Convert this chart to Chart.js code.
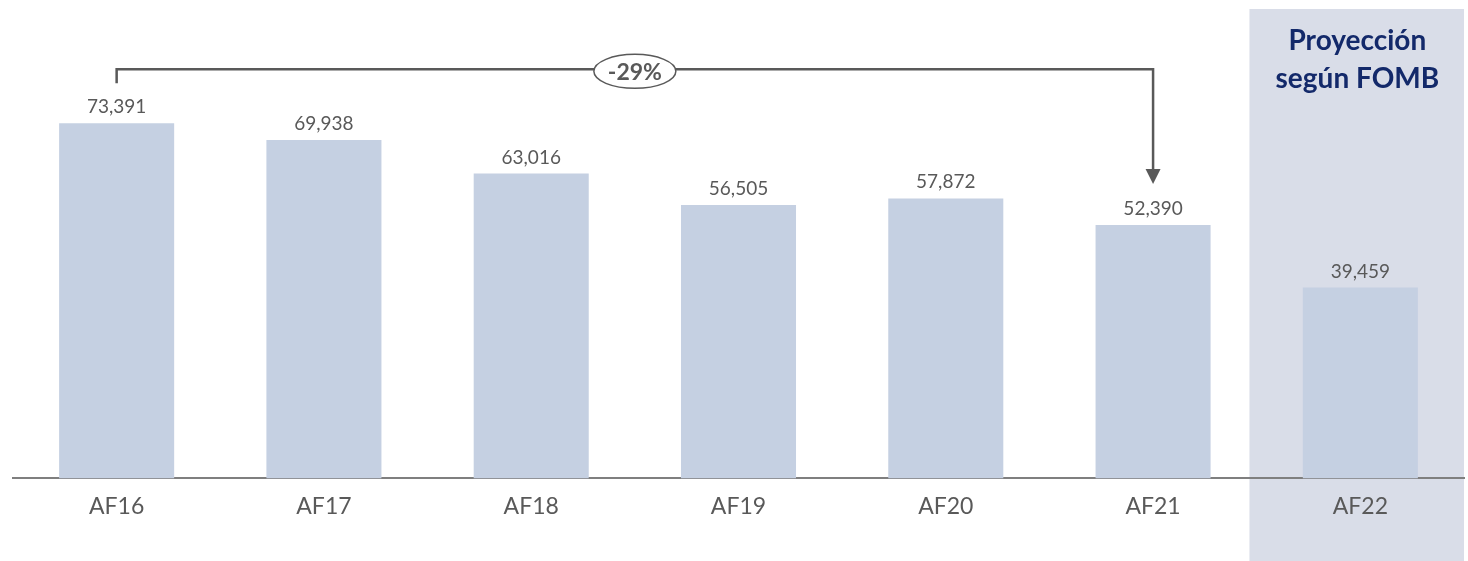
<!DOCTYPE html>
<html>
<head>
<meta charset="utf-8">
<script src="https://cdn.jsdelivr.net/npm/chart.js@4"></script>
<style>
  body { margin: 0; background: #fff; }
  #wrap { width: 1468px; height: 561px; position: relative; }
</style>
</head>
<body>
<div id="wrap"><canvas id="chart"></canvas></div>
<script>
const categories = ['AF16', 'AF17', 'AF18', 'AF19', 'AF20', 'AF21', 'AF22'];
const values = [73391, 69938, 63016, 56505, 57872, 52390, 39459];
const projectionTitle = ['Proyección', 'según FOMB'];
const bracketFrom = 0;
const bracketTo = 5;

const textGrey = '#595959';
const lineGrey = '#595959';

const pctChange = Math.round((values[bracketTo] / values[bracketFrom] - 1) * 100) + '%';

const shadePlugin = {
    id: 'shade',
    beforeDraw(chart) {
        const ctx = chart.ctx;
        const x = chart.scales.x;
        const step = x.getPixelForValue(1) - x.getPixelForValue(0);
        const left = x.getPixelForValue(categories.length - 1) - step * 0.535;
        ctx.save();
        ctx.fillStyle = '#d9dde8';
        ctx.fillRect(left, 9, chart.width - left - 4, chart.height - 9);
        ctx.fillStyle = '#13296a';
        ctx.font = 'bold 28px Lato';
        ctx.textAlign = 'center';
        ctx.textBaseline = 'middle';
        const cx = x.getPixelForValue(categories.length - 1) - 3;
        ctx.fillText(projectionTitle[0], cx, 41);
        ctx.fillText(projectionTitle[1], cx, 79);
        ctx.restore();
    }
};

const labelPlugin = {
    id: 'valueLabels',
    afterDatasetsDraw(chart) {
        const ctx = chart.ctx;
        const meta = chart.getDatasetMeta(0);
        ctx.save();
        ctx.fillStyle = textGrey;
        ctx.font = '19px Lato';
        ctx.textAlign = 'center';
        ctx.textBaseline = 'alphabetic';
        meta.data.forEach((bar, i) => {
            ctx.fillText(values[i].toLocaleString('en-US'), bar.x, bar.y - 10);
        });

        // bracket with arrow
        const a = meta.data[bracketFrom];
        const b = meta.data[bracketTo];
        const topY = a.y - 54;
        ctx.strokeStyle = lineGrey;
        ctx.lineWidth = 2.5;
        ctx.beginPath();
        ctx.moveTo(a.x, a.y - 40);
        ctx.lineTo(a.x, topY);
        ctx.lineTo(b.x, topY);
        ctx.lineTo(b.x, b.y - 55);
        ctx.stroke();
        ctx.fillStyle = lineGrey;
        ctx.beginPath();
        ctx.moveTo(b.x - 7.5, b.y - 56);
        ctx.lineTo(b.x + 7.5, b.y - 56);
        ctx.lineTo(b.x, b.y - 41);
        ctx.closePath();
        ctx.fill();

        const mx = (a.x + b.x) / 2;
        ctx.beginPath();
        ctx.ellipse(mx, topY + 2, 41, 17, 0, 0, Math.PI * 2);
        ctx.fillStyle = '#fff';
        ctx.fill();
        ctx.lineWidth = 1.5;
        ctx.stroke();
        ctx.fillStyle = textGrey;
        ctx.font = 'bold 23px Lato';
        ctx.textBaseline = 'middle';
        ctx.fillText(pctChange, mx, topY + 3);
        ctx.restore();
    }
};

new Chart(document.getElementById('chart'), {
    type: 'bar',
    data: {
        labels: categories,
        datasets: [{
            data: values,
            backgroundColor: '#c5d0e2',
            barPercentage: 0.555,
            categoryPercentage: 1
        }]
    },
    options: {
        responsive: true,
        maintainAspectRatio: false,
        animation: false,
        layout: { padding: { top: 43, left: 13, right: 4, bottom: 35 } },
        plugins: { legend: { display: false }, tooltip: { enabled: false } },
        scales: {
            x: {
                grid: { display: false },
                border: { display: true, color: '#7f7f7f', width: 2 },
                ticks: { color: textGrey, font: { family: 'Lato', size: 23 }, padding: 6 }
            },
            y: {
                display: false,
                min: 0,
                max: 90000
            }
        }
    },
    plugins: [shadePlugin, labelPlugin]
});
</script>
</body>
</html>
